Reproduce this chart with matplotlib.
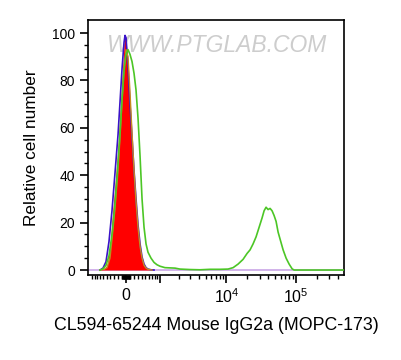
import numpy as np
import matplotlib
matplotlib.use("Agg")
import matplotlib.pyplot as plt
from matplotlib.ticker import FixedLocator, NullFormatter

plt.rcParams['font.family'] = ['Liberation Sans', 'DejaVu Sans']
plt.rcParams['mathtext.fontset'] = 'custom'
plt.rcParams['mathtext.rm'] = 'Liberation Sans'
plt.rcParams['mathtext.it'] = 'Liberation Sans'

# ---- data (fluorescence intensity, relative cell number) ----
iso_x = [-706, -577, -488, -404, -350, -271, -195, -145, -96, -48, -24, 0, 48, 96, 145, 195,
         245, 297, 350, 404, 460, 518, 577, 706]
iso_y = [0, 0.5, 2, 9, 21, 36, 52, 66, 81, 95, 99, 98, 84, 66, 52, 38,
         27, 17, 9, 4.5, 2, 0.7, 0.2, 0]

blue_x = [-706, -609, -518, -432, -350, -271, -195, -145, -96, -48, -24, 0, 48, 96, 145, 195,
          245, 297, 350, 404, 460, 518, 577, 673, 775]
blue_y = [0, 0.8, 3.5, 12, 25, 41, 57, 71, 85, 96, 99, 98, 86, 70, 56, 42,
          30, 19, 11, 5.5, 2.5, 1, 0.4, 0.1, 0]

orange_x = [-706, -577, -488, -404, -350, -271, -195, -145, -96, -48, 0, 48, 96, 145, 195,
            245, 297, 350, 404, 460, 518, 577, 706]
orange_y = [0, 0.3, 1, 5, 13, 26, 42, 56, 71, 85, 93, 90, 75, 58, 42,
            29, 18, 10, 5, 2, 0.8, 0.3, 0]

green_x = [-706, -609, -518, -432, -350, -271, -195, -145, -96, -48, 0, 48, 96, 145, 195,
           245, 297, 350, 404, 460, 518, 577, 673, 775, 886, 1002, 1218, 1473, 1768, 2102,
           2980, 4163, 5810, 8106, 10556, 12470, 14690, 17330, 19780, 21830, 24100, 26620,
           29400, 32470, 34690, 37030, 39550, 42240, 45120, 48230, 51530, 55060, 58820,
           64970, 71740, 79230, 87460, 93450, 113900, 480000]
green_y = [0, 0.5, 2, 6, 15, 28, 45, 58, 72, 84, 91, 93, 91, 88, 83,
           76, 64, 48, 30, 18, 11, 7.5, 5, 3.2, 2.2, 1.6, 1.0, 0.9, 0.8, 0.4,
           0.2, 0.1, 0.3, 0.3, 0.4, 1.0, 2.5, 4.5, 7, 8.5, 11, 14,
           18, 22, 25, 26.5, 25.5, 26, 25, 23, 20.5, 16, 13,
           8.5, 5, 2.5, 0.5, 0, 0, 0]

base_x = [-1200, 480000]
base_y = [0, 0]

y_ticks = [0, 20, 40, 60, 80, 100]
x_major = [0, 1000, 10000, 100000]
x_labels = ['0', '', '$10^4$', '$10^5$']

W = 730.0
fwd = lambda x: np.arcsinh(np.asarray(x, dtype=float) / W)
inv = lambda y: W * np.sinh(np.asarray(y, dtype=float))

fig = plt.figure(figsize=(4.02, 3.6), dpi=100)
ax = fig.add_axes([88/402, 1-275/360, (344-88)/402, (275-20)/360])
ax.set_xscale('function', functions=(fwd, inv))

ax.plot(base_x, base_y, color='#c9a6e6', lw=1.2, zorder=1.5)
ax.fill_between(iso_x, iso_y, 0, color='#ff0000', lw=0, zorder=2)
ax.plot(blue_x, blue_y, color='#3a12c8', lw=1.2, zorder=3)
ax.plot(orange_x, orange_y, color='#c88a1e', lw=1.0, zorder=4)
ax.plot(green_x, green_y, color='#4cc626', lw=1.2, zorder=5)

ax.set_xlim(-1175, 484000)
ax.set_ylim(-2.1, 105.5)

ax.xaxis.set_major_locator(FixedLocator(x_major))
ax.set_xticklabels(x_labels, fontsize=11.5)
minor = []
for s in (-1, 1):
    minor += [s * k * 10 for k in range(1, 10)]
    minor += [s * k * 100 for k in range(1, 10)]
minor += [-1000]
minor += [k * 1000 for k in range(2, 10)]
minor += [k * 10000 for k in range(2, 10)]
minor += [k * 100000 for k in range(2, 5)]
ax.xaxis.set_minor_locator(FixedLocator(minor))
ax.xaxis.set_minor_formatter(NullFormatter())

ax.set_yticks(y_ticks)
ax.set_yticklabels([str(v) for v in y_ticks], fontsize=10)
ax.yaxis.set_minor_locator(FixedLocator(np.arange(0, 105, 5)))

ax.tick_params(axis='both', which='major', direction='out', length=6, width=1.2, color='black')
ax.tick_params(axis='both', which='minor', direction='out', length=3, width=1.0, color='black')
ax.tick_params(axis='x', which='major', pad=3)
for sp in ax.spines.values():
    sp.set_linewidth(1.2)

ax.text(0.5, 0.9, 'WWW.PTGLAB.COM', transform=ax.transAxes, ha='center', va='center',
        fontsize=16.5, color='#b8b8b8', style='italic', alpha=0.7, zorder=1)

ax.set_ylabel('Relative cell number', fontsize=12.4, labelpad=9)
ax.set_xlabel('CL594-65244 Mouse IgG2a (MOPC-173)', fontsize=12.8, labelpad=8)

fig.savefig('out.png', dpi=100)
